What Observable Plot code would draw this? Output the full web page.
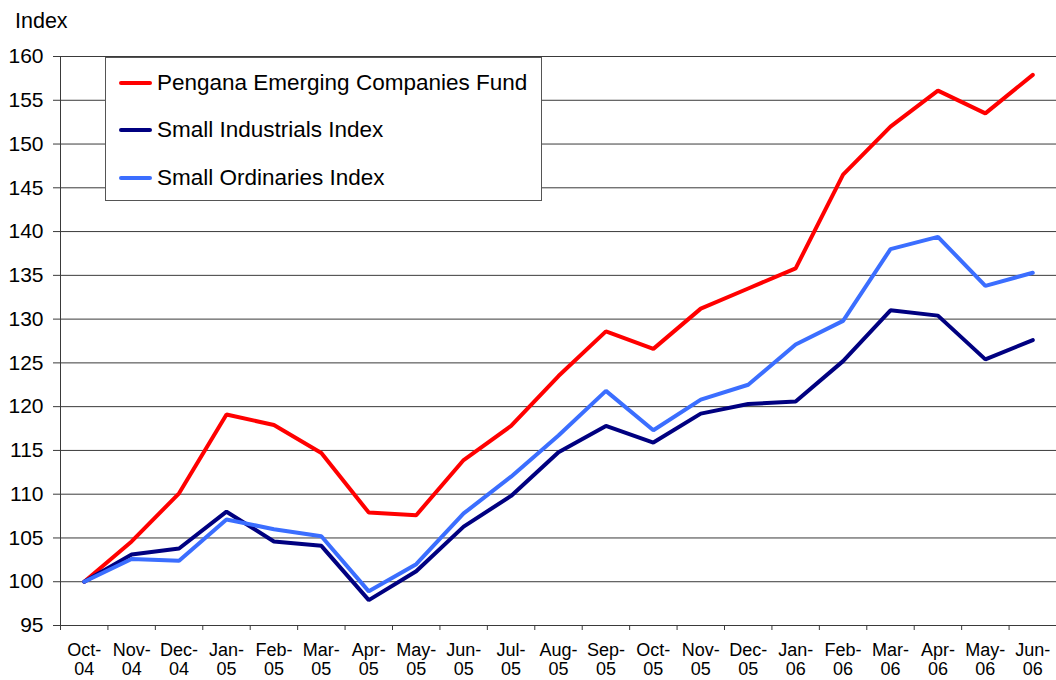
<!DOCTYPE html>
<html>
<head>
<meta charset="utf-8">
<script src="https://cdn.jsdelivr.net/npm/d3@7"></script>
<script src="https://cdn.jsdelivr.net/npm/@observablehq/plot@0.6"></script>
<style>
  html, body { margin: 0; padding: 0; background: #fff; }
  #wrap { position: relative; width: 1056px; height: 680px; overflow: hidden; font-family: "Liberation Sans", Arial, sans-serif; }
  #ylabel { position: absolute; left: 15px; top: 11px; font-size: 21.5px; line-height: 21px; color: #000; }
  #legend { position: absolute; left: 105px; top: 57px; width: 437px; height: 144px; border: 1px solid #555; background: #fff; box-sizing: border-box; }
  .item { position: absolute; left: 13px; height: 24px; display: flex; align-items: center; font-size: 22.5px; line-height: 24px; color: #000; white-space: nowrap; }
  .swatch { width: 33px; height: 4px; border-radius: 2px; margin-right: 5px; }
</style>
</head>
<body>
<div id="wrap">
  <div id="chart"></div>
  <div id="ylabel">Index</div>
  <div id="legend"></div>
</div>
<script>
const months = ["Oct-04","Nov-04","Dec-04","Jan-05","Feb-05","Mar-05","Apr-05","May-05","Jun-05","Jul-05","Aug-05","Sep-05","Oct-05","Nov-05","Dec-05","Jan-06","Feb-06","Mar-06","Apr-06","May-06","Jun-06"];
const pengana     = [100,104.6,110.1,119.1,117.9,114.7,107.9,107.6,113.9,117.8,123.5,128.6,126.6,131.2,133.5,135.8,146.5,152.0,156.1,153.5,157.9];
const industrials = [100,103.1,103.8,108.0,104.6,104.1,97.9,101.2,106.3,109.8,114.8,117.8,115.9,119.2,120.3,120.6,125.2,131.0,130.4,125.4,127.6];
const ordinaries  = [100,102.6,102.4,107.1,106.0,105.2,98.9,102.0,107.8,112.0,116.7,121.8,117.3,120.8,122.5,127.1,129.8,138.0,139.4,133.8,135.3];
const seriesNames = ["Pengana Emerging Companies Fund","Small Industrials Index","Small Ordinaries Index"];
const seriesColors = ["#ff0000","#000080","#3b6eff"];
const yTicks = d3.range(95, 161, 5);

const seriesValues = [pengana, industrials, ordinaries];
const data = [];
seriesValues.forEach((vals, s) => vals.forEach((v, i) => data.push({i, v, s: seriesNames[s]})));
const idx = months.map((_, i) => i);
const bounds = d3.range(0, months.length + 1).map(i => i - 0.5);

const chart = Plot.plot({
  width: 1056,
  height: 680,
  marginLeft: 60,
  marginRight: 0,
  marginTop: 56,
  marginBottom: 55,
  style: {fontFamily: "'Liberation Sans', Arial, sans-serif", color: "#000", background: "#fff"},
  x: {type: "linear", domain: [-0.5, months.length - 0.5]},
  y: {domain: [95, 160]},
  color: {domain: seriesNames, range: seriesColors},
  marks: [
    Plot.ruleY(yTicks, {stroke: "#3a3a3a", strokeWidth: 1}),
    Plot.ruleX([-0.5], {stroke: "#3a3a3a", strokeWidth: 1}),
    Plot.axisY({ticks: yTicks, tickSize: 7, tickPadding: 10, fontSize: 21, label: null, stroke: "#3a3a3a", strokeOpacity: 1}),
    Plot.axisX({ticks: bounds, tickSize: 5, tickFormat: () => "", label: null, stroke: "#3a3a3a", strokeOpacity: 1}),
    Plot.axisX({ticks: idx, tickSize: 0, tickPadding: 17, fontSize: 18, lineHeight: 1.06, label: null,
      tickFormat: i => { const m = months[i]; if (m === undefined) return ""; const p = m.split("-"); return p[0] + "-\n" + p[1]; }}),
    Plot.line(data, {x: "i", y: "v", z: "s", stroke: "s", strokeWidth: 4, strokeLinejoin: "miter", strokeLinecap: "round"})
  ]
});
document.getElementById("chart").appendChild(chart);

const legend = document.getElementById("legend");
seriesNames.forEach((name, k) => {
  const row = document.createElement("div");
  row.className = "item";
  row.style.top = (12.7 + k * 47.5) + "px";
  const sw = document.createElement("div");
  sw.className = "swatch";
  sw.style.background = seriesColors[k];
  const tx = document.createElement("span");
  tx.textContent = name;
  row.appendChild(sw);
  row.appendChild(tx);
  legend.appendChild(row);
});
</script>
</body>
</html>
